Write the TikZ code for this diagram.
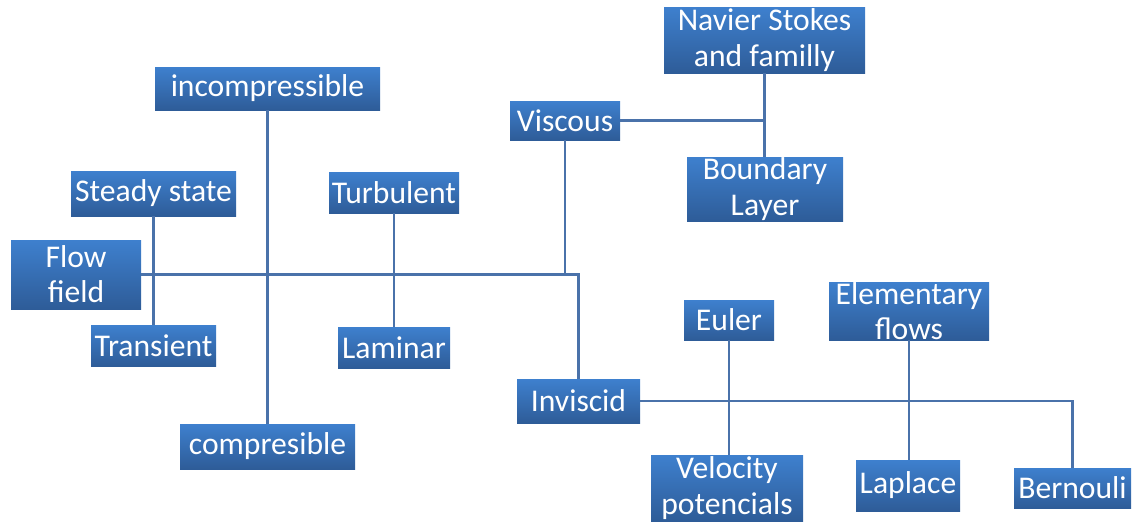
\documentclass[tikz,border=0pt]{standalone}
\usepackage{fontspec}
\setmainfont{Carlito}
\definecolor{boxtop}{RGB}{62,128,206}
\definecolor{boxbot}{RGB}{46,92,152}
\definecolor{linkcol}{RGB}{74,114,170}
\tikzset{
  blk/.style={rectangle, top color=boxtop, bottom color=boxbot, draw=none,
    text=white, align=center, inner sep=0pt,
    font=\fontsize{18}{20}\selectfont},
  sz/.style 2 args={minimum width=#1*0.02cm, minimum height=#2*0.02cm},
  link/.style={draw=linkcol, line width=1.2pt}
}
\begin{document}
\begin{tikzpicture}[x=0.02cm,y=-0.02cm]
  \useasboundingbox (0,0) rectangle (1143,521);
  % boxes
  \node[blk, sz={201}{66}] (navier) at (764.5,40) {Navier Stokes\\and familly};
  \node[blk, sz={225}{43}] (incomp) at (267.5,88.5) {incompressible};
  \node[blk, sz={110}{39}] (viscous) at (565,120.5) {Viscous};
  \node[blk, sz={165}{45}] (steady) at (153.5,193.5) {Steady state};
  \node[blk, sz={130}{41}] (turb) at (394,192.5) {Turbulent};
  \node[blk, sz={156}{64}] (boundary) at (765,189) {Boundary\\Layer};
  \node[blk, sz={130}{69}] (flow) at (76,274.5) {Flow\\field};
  \node[blk, sz={125}{41}] (transient) at (153.5,345.5) {Transient};
  \node[blk, sz={112}{41}] (laminar) at (394,347.5) {Laminar};
  \node[blk, sz={90}{40}] (euler) at (729,320) {Euler};
  \node[blk, sz={160}{58}] (elem) at (909,311) {Elementary\\flows};
  \node[blk, sz={123}{44}] (inviscid) at (578.5,401) {Inviscid};
  \node[blk, sz={175}{45}] (compr) at (267.5,446.5) {compresible};
  \node[blk, sz={152}{66}] (velocity) at (727,488) {Velocity\\potencials};
  \node[blk, sz={104}{51}] (laplace) at (908,485.5) {Laplace};
  \node[blk, sz={117}{40}] (bernouli) at (1072.5,488) {Bernouli};
  % connectors
  \draw[link] (steady.south) -- (transient.north);
  \draw[link] (incomp.south) -- (compr.north);
  \draw[link] (turb.south) -- (laminar.north);
  \draw[link] (flow.east) -| (inviscid.north);
  \draw[link] (viscous.south) -- (viscous.south |- flow.east);
  \draw[link] (viscous.east) -- (viscous.east -| navier.south);
  \draw[link] (navier.south) -- (navier.south |- boundary.north);
  \draw[link] (inviscid.east) -| (bernouli.north);
  \draw[link] (euler.south) -- (euler.south |- velocity.north);
  \draw[link] (elem.south) -- (elem.south |- laplace.north);
\end{tikzpicture}
\end{document}
